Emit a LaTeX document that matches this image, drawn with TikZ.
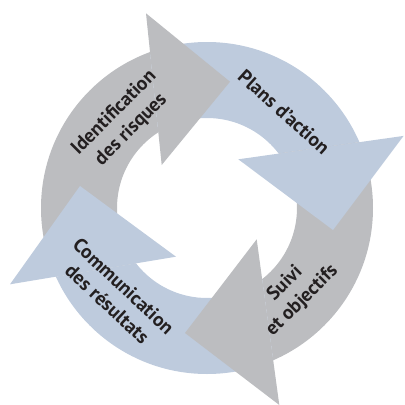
\documentclass[tikz,border=0pt]{standalone}
\usepackage{fontspec}
\setmainfont{PT Sans}
\definecolor{ringgray}{RGB}{188,189,192}
\definecolor{ringblue}{RGB}{190,203,221}
\definecolor{labeltext}{RGB}{35,31,32}

\begin{document}
\begin{tikzpicture}[x=1pt,y=-1pt,
  steplabel/.style={font=\bfseries\fontsize{19.5}{24}\selectfont,text=labeltext,align=center,inner sep=0pt}]
\useasboundingbox (0,0) rectangle (405,405);
\coordinate (O) at (207,208);
\coordinate (a1) at (146,13.3);
\coordinate (t1) at (230,81.7);
\coordinate (b1) at (161.7,165);
\coordinate (a2) at (403.6,135.9);
\coordinate (t2) at (333,230);
\coordinate (b2) at (238.3,159.3);
\coordinate (a3) at (279.3,405);
\coordinate (t3) at (185,333);
\coordinate (b3) at (256.7,239.3);
\coordinate (a4) at (10,284.3);
\coordinate (t4) at (80,186);
\coordinate (b4) at (176,256.7);
\coordinate (f1) at (-218.5,61.5);
\coordinate (f2) at (353.5,-217.5);
\coordinate (f3) at (637,339.6);
\coordinate (f4) at (79,639.5);
\begin{scope}
\clip (b4) -- (a4) -- (f1) -- (a1) -- (b1) -- cycle;
\fill [ringgray,even odd rule] (O) circle [radius=166pt] (O) circle [radius=90pt];
\end{scope}
\begin{scope}
\clip (b1) -- (a1) -- (f2) -- (a2) -- (b2) -- cycle;
\fill [ringblue,even odd rule] (O) circle [radius=166pt] (O) circle [radius=90pt];
\end{scope}
\begin{scope}
\clip (b2) -- (a2) -- (f3) -- (a3) -- (b3) -- cycle;
\fill [ringgray,even odd rule] (O) circle [radius=166pt] (O) circle [radius=90pt];
\end{scope}
\begin{scope}
\clip (b3) -- (a3) -- (f4) -- (a4) -- (b4) -- cycle;
\fill [ringblue,even odd rule] (O) circle [radius=166pt] (O) circle [radius=90pt];
\end{scope}
\fill [ringgray] (a1) -- (t1) -- (b1) -- cycle;
\fill [ringblue] (a2) -- (t2) -- (b2) -- cycle;
\fill [ringgray] (a3) -- (t3) -- (b3) -- cycle;
\fill [ringblue] (a4) -- (t4) -- (b4) -- cycle;
\node (ident) [steplabel,rotate=45] at (122.7,121.2) {Identification\\des risques};
\node (plans) [steplabel,rotate=-42] at (284,112) {Plans d’action};
\node (suivi) [steplabel,rotate=45] at (293.7,292.2) {Suivi\\et objectifs};
\node (comm) [steplabel,rotate=-43] at (115.5,295) {Communication\\des résultats};
\end{tikzpicture}
\end{document}
